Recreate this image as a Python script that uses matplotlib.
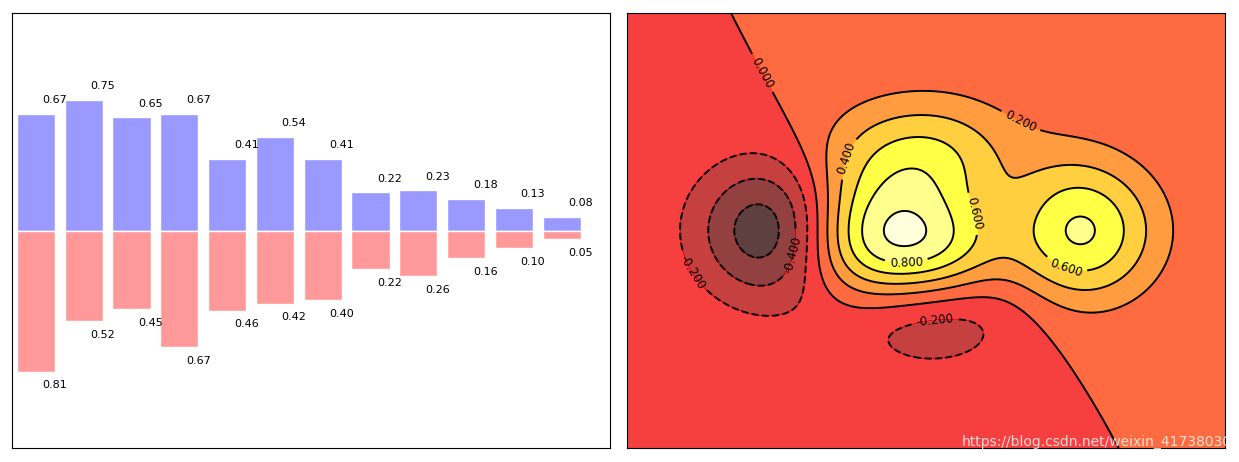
import numpy as np
import matplotlib.pyplot as plt

# bar heights
upper = [0.67, 0.75, 0.65, 0.67, 0.41, 0.54, 0.41, 0.22, 0.23, 0.18, 0.13, 0.08]
lower = [0.81, 0.52, 0.45, 0.67, 0.46, 0.42, 0.40, 0.22, 0.26, 0.16, 0.10, 0.05]


def f(x, y):
    return (1 - x / 2 + x**5 + y**3) * np.exp(-x**2 - y**2)


fig = plt.figure(figsize=(12.39, 4.62), dpi=100)
plt.subplots_adjust(left=0.0097, right=0.9887, bottom=0.030, top=0.972, wspace=0.03)

# bars
ax1 = plt.subplot(1, 2, 1)
n = len(upper)
X = np.arange(n)
Y1 = np.array(upper)
Y2 = np.array(lower)
ax1.bar(X, +Y1, facecolor='#9999ff', edgecolor='white')
ax1.bar(X, -Y2, facecolor='#ff9999', edgecolor='white')
for x, y in zip(X, Y1):
    ax1.text(x + 0.4, y + 0.05, '%.2f' % y, ha='center', va='bottom', fontsize=8)
for x, y in zip(X, Y2):
    ax1.text(x + 0.4, -y - 0.05, '%.2f' % y, ha='center', va='top', fontsize=8)
ax1.set_xlim(-0.5, n)
ax1.set_ylim(-1.25, 1.25)
ax1.set_xticks([])
ax1.set_yticks([])

# contour
ax2 = plt.subplot(1, 2, 2)
m = 256
x = np.linspace(-3, 3, m)
y = np.linspace(-3, 3, m)
XX, YY = np.meshgrid(x, y)
ax2.contourf(XX, YY, f(XX, YY), 8, alpha=0.75, cmap=plt.cm.hot)
C = ax2.contour(XX, YY, f(XX, YY), 8, colors='black', linewidths=1.4)
label_spots = [(-1.65, 2.17), (0.98, 1.59), (-0.84, 1.01), (0.50, 0.24), (-0.20, -0.43),
               (1.40, -0.52), (-1.32, -0.34), (-2.35, -0.57), (0.09, -1.26)]
ax2.clabel(C, inline=1, fontsize=8.5, fmt='%.3f', manual=label_spots)
ax2.set_xticks([])
ax2.set_yticks([])

fig.text(0.994, 0.028, 'https://blog.csdn.net/weixin_41738030', ha='right', va='bottom',
         fontsize=10, color='#f4f4f4', alpha=0.85)

plt.savefig('out.png')
